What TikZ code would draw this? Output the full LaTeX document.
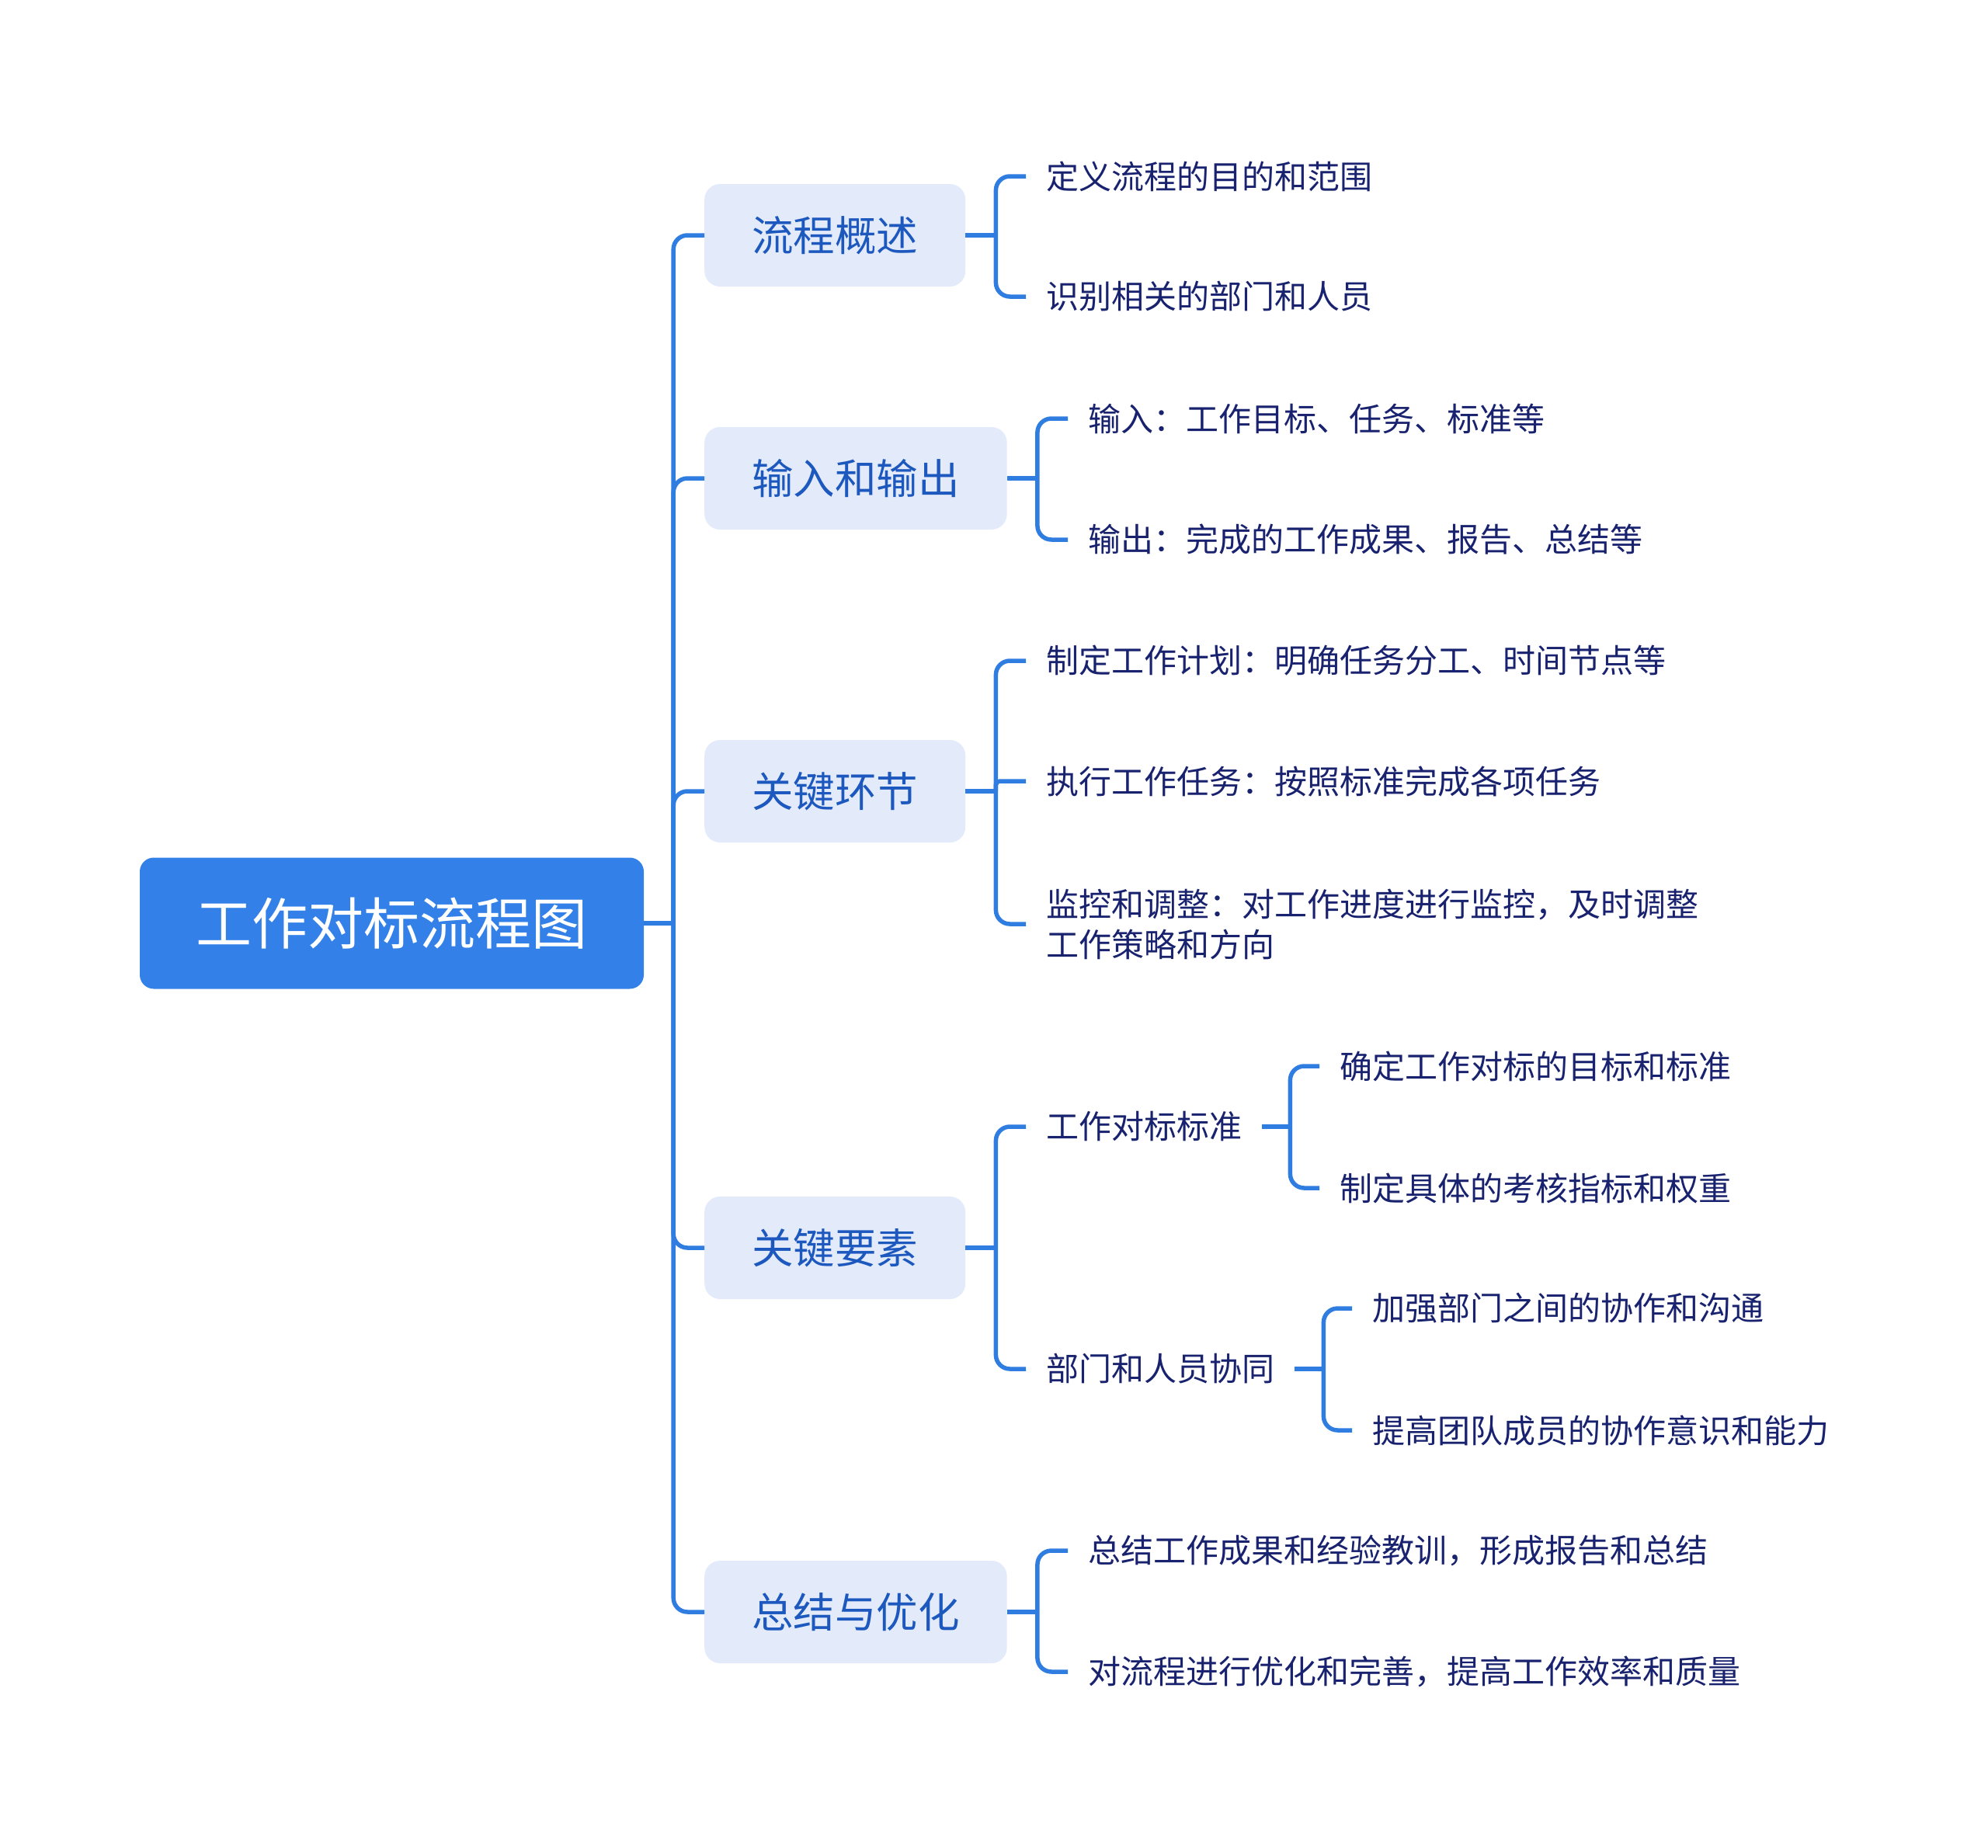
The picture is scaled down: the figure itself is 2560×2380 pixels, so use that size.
\documentclass[tikz,border=0pt]{standalone}
\usepackage{fontspec}
\setmainfont{Noto Sans CJK SC}

\definecolor{rootblue}{HTML}{3381E8}
\definecolor{linkblue}{HTML}{2F7DE0}
\definecolor{topicfill}{HTML}{E3EBFB}
\definecolor{topicblue}{HTML}{1C58BE}
\definecolor{leafnavy}{HTML}{18226E}

\begin{document}
\begin{tikzpicture}[x=1pt,y=-1pt,
  rootbox/.style={fill=rootblue,text=white,rounded corners=18pt,minimum width=649pt,minimum height=169pt,inner sep=0pt,font=\fontsize{72}{80}\selectfont},
  topicbox/.style={fill=topicfill,text=topicblue,rounded corners=20pt,minimum height=132pt,inner xsep=61pt,inner ysep=0pt,anchor=west,font=\fontsize{53.5}{60}\selectfont},
  leafbox/.style={text=leafnavy,inner xsep=26pt,inner ysep=6pt,anchor=west,align=left,font=\fontsize{42}{52}\selectfont},
  link/.style={draw=linkblue,line width=5.5pt,rounded corners=18pt}]
\fill[white] (0,0) rectangle (2560,2380);
\useasboundingbox (0,0) rectangle (2560,2380);

% root and main topics
\node[rootbox] (root) at (504.5,1189) {工作对标流程图};
\node[topicbox] (t1) at (907,303) {流程概述};
\node[topicbox] (t2) at (907,616) {输入和输出};
\node[topicbox] (t3) at (907,1019) {关键环节};
\node[topicbox] (t4) at (907,1607) {关键要素};
\node[topicbox] (t5) at (907,2076) {总结与优化};

% leaves
\node[leafbox] (l11) at (1321,227) {定义流程的目的和范围};
\node[leafbox] (l12) at (1321,382) {识别相关的部门和人员};
\node[leafbox] (l21) at (1375,539) {输入：工作目标、任务、标准等};
\node[leafbox] (l22) at (1375,695) {输出：完成的工作成果、报告、总结等};
\node[leafbox] (l31) at (1321,851) {制定工作计划：明确任务分工、时间节点等};
\node[leafbox] (l32) at (1321,1006) {执行工作任务：按照标准完成各项任务};
\node[leafbox] (l33) at (1321,1190) {监控和调整：对工作进度进行监控，及时调整\\工作策略和方向};
\node[leafbox] (l41) at (1321,1451) {工作对标标准};
\node[leafbox] (l42) at (1321,1763) {部门和人员协同};
\node[leafbox] (l411) at (1699,1373) {确定工作对标的目标和标准};
\node[leafbox] (l412) at (1699,1530) {制定具体的考核指标和权重};
\node[leafbox] (l421) at (1741,1685) {加强部门之间的协作和沟通};
\node[leafbox] (l422) at (1741,1842) {提高团队成员的协作意识和能力};
\node[leafbox] (l51) at (1375,1997) {总结工作成果和经验教训，形成报告和总结};
\node[leafbox] (l52) at (1375,2153) {对流程进行优化和完善，提高工作效率和质量};

% junctions
\coordinate (j0) at ([xshift=38pt]root.east);
\coordinate (j1) at ([xshift=39pt]t1.east);
\coordinate (j2) at ([xshift=39pt]t2.east);
\coordinate (j3) at ([xshift=39pt]t3.east);
\coordinate (j4) at ([xshift=39pt]t4.east);
\coordinate (j5) at ([xshift=39pt]t5.east);
\coordinate (j41) at ([xshift=36pt]l41.east);
\coordinate (j42) at ([xshift=37pt]l42.east);

% connectors
\draw[link] (root.east) -- (j0);
\foreach \t in {t1,t2,t3,t4,t5} \draw[link] (j0) |- (\t.west);
\draw[link] (t1.east) -- (j1);
\draw[link] (j1) |- (l11.west);
\draw[link] (j1) |- (l12.west);
\draw[link] (t2.east) -- (j2);
\draw[link] (j2) |- (l21.west);
\draw[link] (j2) |- (l22.west);
\draw[link] (t3.east) -- (j3);
\draw[link] (j3) |- (l31.west);
\draw[link,rounded corners=5pt] (j3) |- (l32.west);
\draw[link] (j3) |- (l33.west);
\draw[link] (t4.east) -- (j4);
\draw[link] (j4) |- (l41.west);
\draw[link] (j4) |- (l42.west);
\draw[link] (l41.east) -- (j41);
\draw[link] (j41) |- (l411.west);
\draw[link] (j41) |- (l412.west);
\draw[link] (l42.east) -- (j42);
\draw[link] (j42) |- (l421.west);
\draw[link] (j42) |- (l422.west);
\draw[link] (t5.east) -- (j5);
\draw[link] (j5) |- (l51.west);
\draw[link] (j5) |- (l52.west);
\end{tikzpicture}
\end{document}
